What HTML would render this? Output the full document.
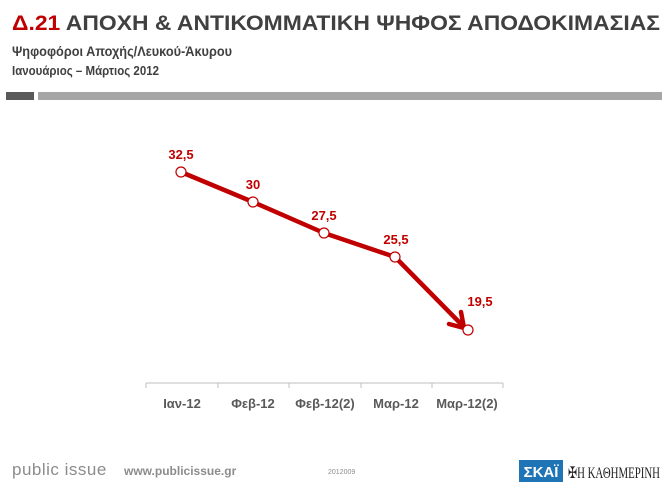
<!DOCTYPE html>
<html><head><meta charset="utf-8"><style>
body{margin:0;width:668px;height:494px;background:#fff;overflow:hidden;font-family:"Liberation Sans","DejaVu Sans",sans-serif}
</style></head><body>
<svg width="668" height="494" xmlns="http://www.w3.org/2000/svg" font-family="Liberation Sans, DejaVu Sans, sans-serif">
<text x="12" y="30" font-size="21" fill="#404040" font-weight="bold" textLength="648" lengthAdjust="spacingAndGlyphs"><tspan fill="#c00000">Δ.21</tspan> ΑΠΟΧΗ &amp; ΑΝΤΙΚΟΜΜΑΤΙΚΗ ΨΗΦΟΣ ΑΠΟΔΟΚΙΜΑΣΙΑΣ</text>
<text x="12" y="56" font-size="14" fill="#404040" font-weight="bold" textLength="220" lengthAdjust="spacingAndGlyphs">Ψηφοφόροι Αποχής/Λευκού-Άκυρου</text>
<text x="12" y="75" font-size="13" fill="#404040" font-weight="bold" textLength="147" lengthAdjust="spacingAndGlyphs">Ιανουάριος – Μάρτιος 2012</text>
<rect x="6" y="92" width="28" height="8" fill="#595959"/>
<rect x="38" y="92" width="624" height="8" fill="#a6a6a6"/>
<line x1="146" y1="383" x2="503" y2="383" stroke="#bfbfbf" stroke-width="1"/>
<g stroke="#bfbfbf"><line x1="146" y1="383" x2="146" y2="388"/><line x1="218" y1="383" x2="218" y2="388"/><line x1="289" y1="383" x2="289" y2="388"/><line x1="361" y1="383" x2="361" y2="388"/><line x1="432" y1="383" x2="432" y2="388"/><line x1="503" y1="383" x2="503" y2="388"/></g>
<g font-size="13" font-weight="bold" fill="#595959" text-anchor="middle">
<text x="182" y="408">Ιαν-12</text><text x="253" y="408">Φεβ-12</text><text x="325" y="408">Φεβ-12(2)</text><text x="396" y="408">Μαρ-12</text><text x="467" y="408">Μαρ-12(2)</text></g>
<polyline points="181,172 253,202 324,233 395,257 462,325" fill="none" stroke="#c00000" stroke-width="4.5" stroke-linejoin="round"/>
<polyline points="449,324 464,328 461,312" fill="none" stroke="#c00000" stroke-width="4.5" stroke-linecap="round" stroke-linejoin="round"/>
<g fill="#fff" stroke="#c00000" stroke-width="1.2"><circle cx="181" cy="172" r="5"/><circle cx="253" cy="202" r="5"/><circle cx="324" cy="233" r="5"/><circle cx="395" cy="257" r="5"/><circle cx="468" cy="330" r="5"/></g>
<g font-size="13" font-weight="bold" fill="#c00000" text-anchor="middle">
<text x="181" y="159">32,5</text><text x="253" y="189">30</text><text x="324" y="220">27,5</text><text x="396" y="244">25,5</text><text x="480" y="306">19,5</text></g>
<text x="12" y="475" font-size="17" fill="#8c8c8c" letter-spacing="0.5">public issue</text>
<text x="124" y="475" font-size="12" fill="#8c8c8c" font-weight="bold">www.publicissue.gr</text>
<text x="328" y="474" font-size="7" fill="#8c8c8c">2012009</text>
<rect x="519" y="460" width="44" height="22" fill="#1f74b6"/>
<text x="541" y="477" font-size="15" font-weight="bold" fill="#fff" text-anchor="middle">ΣΚΑΪ</text>
<text x="568" y="478" font-size="16" fill="#222" font-family="Liberation Serif, serif" textLength="92" lengthAdjust="spacingAndGlyphs">✠Η ΚΑΘΗΜΕΡΙΝΗ</text>
</svg>
</body></html>
